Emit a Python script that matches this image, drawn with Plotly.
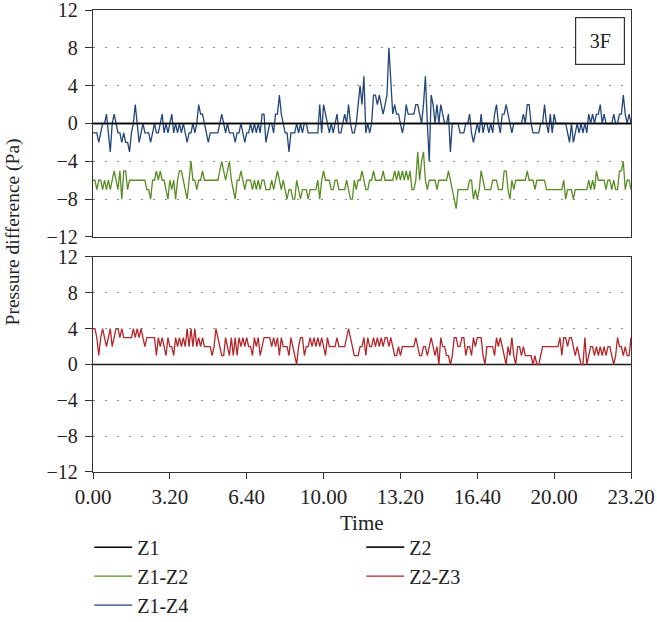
import plotly.graph_objects as go

# Time axis: samples every 5 minutes from 0:00 to 23:20
MINUTES = list(range(0, 1401, 5))
TICK_VALS = [0, 200, 400, 600, 800, 1000, 1200, 1400]
TICK_TEXT = ["0.00", "3.20", "6.40", "10.00", "13.20", "16.40", "20.00", "23.20"]

Z1_Z4 = [
    -1, -1, -1, -2, -1, 0, 0, 1, -1, -3,
    0, 1, 0, -1, -1, -2, -1, -2, -2, -3,
    -1, 0, 2, 0, -2, -1, 0, -1, -1, -1,
    -2, -1, 0, -1, -1, 0, 1, -1, 0, -1,
    0, 1, -1, 0, -1, 0, -1, 0, -1, -2,
    -1, -1, 0, -1, 0, 2, 1, 1, 0, -1,
    -2, -1, -1, -1, -1, -1, 0, 1, 0, -1,
    0, -1, -1, -1, -2, -1, -1, 0, -1, -2,
    -1, -1, 0, -1, 0, -1, 0, -1, 1, 1,
    -2, -1, 0, 0, -1, 1, 1, 3, 1, 0,
    -1, -1, -3, -1, -1, -1, 0, -1, 0, -1,
    0, 0, -1, -1, -1, -1, -1, -1, 2, -1,
    2, 1, 0, -1, 0, -1, 0, 1, -1, -1,
    0, 1, 0, 2, 0, -1, -1, 0, 2, 4,
    2, 5, -1, 0, -1, 0, 3, 3, 2, 3,
    2, 1, 2, 3, 8, 4, 1, 2, 1, 1,
    0, -1, 0, 2, 1, 1, 1, 1, 2, 2,
    1, 0, 2, 5, 0, -4, 3, 2, 0, 2,
    0, 2, 1, 0, 0, 1, -3, 0, 0, 0,
    0, -1, -1, -1, 0, 0, 1, -1, -2, -1,
    0, -1, 1, -1, 0, 0, -1, 0, -1, 1,
    2, 0, -1, 1, 1, 2, 1, 0, -1, 0,
    0, 0, 0, 0, 1, 0, 2, 2, 0, -1,
    -1, -1, -1, 0, 0, 2, 0, -1, 1, -1,
    1, 0, 0, 0, 0, 0, 0, -1, -2, 0,
    -2, -1, 0, -1, 0, -1, 0, -1, 1, 0,
    1, 0, 1, 1, 2, 0, 1, 0, 0, 0,
    0, 1, 0, 0, 1, 1, 3, 1, 0, 1,
    0,
]

Z1_Z2 = [
    -6, -6, -7, -6, -6, -7, -6, -7, -6, -7,
    -6, -5, -6, -7, -5, -8, -5, -5, -7, -6,
    -6, -6, -6, -6, -6, -6, -6, -6, -7, -7,
    -8, -6, -6, -5, -6, -5, -6, -6, -7, -8,
    -6, -7, -6, -8, -6, -5, -5, -6, -7, -8,
    -6, -4, -6, -6, -7, -6, -6, -5, -6, -6,
    -6, -6, -6, -6, -6, -6, -5, -4, -5, -6,
    -5, -4, -6, -7, -8, -6, -6, -5, -6, -7,
    -6, -6, -6, -7, -6, -7, -6, -7, -6, -6,
    -7, -7, -7, -6, -7, -6, -5, -6, -7, -6,
    -7, -8, -7, -7, -8, -8, -6, -7, -8, -7,
    -7, -7, -8, -7, -7, -7, -7, -6, -8, -6,
    -5, -6, -6, -6, -7, -7, -6, -6, -7, -7,
    -7, -7, -6, -7, -8, -8, -6, -7, -6, -6,
    -5, -6, -7, -7, -6, -6, -5, -6, -6, -6,
    -6, -5, -6, -6, -6, -6, -6, -5, -6, -5,
    -6, -5, -6, -5, -6, -5, -7, -7, -6, -3,
    -6, -4, -3, -6, -7, -6, -6, -6, -6, -7,
    -6, -6, -6, -6, -6, -5, -6, -7, -8, -9,
    -7, -7, -7, -7, -7, -7, -6, -6, -8, -7,
    -8, -7, -5, -6, -7, -7, -7, -7, -6, -6,
    -6, -7, -7, -7, -5, -5, -7, -8, -6, -7,
    -6, -6, -6, -6, -6, -6, -5, -6, -6, -6,
    -7, -6, -6, -6, -6, -6, -7, -7, -7, -7,
    -7, -7, -7, -7, -7, -6, -8, -7, -7, -7,
    -8, -7, -7, -7, -7, -7, -7, -7, -6, -7,
    -6, -7, -5, -6, -6, -6, -6, -7, -6, -6,
    -7, -6, -7, -7, -5, -5, -4, -7, -6, -6,
    -7,
]

Z2_Z3 = [
    4, 4, 3, 1, 3, 4, 3, 2, 3, 4,
    2, 3, 4, 4, 3, 4, 3, 3, 3, 3,
    3, 4, 3, 4, 3, 4, 3, 2, 3, 3,
    3, 3, 3, 1, 3, 2, 3, 2, 1, 3,
    2, 2, 1, 3, 2, 3, 2, 3, 2, 4,
    2, 4, 2, 4, 2, 3, 2, 3, 2, 2,
    2, 2, 1, 2, 4, 3, 2, 1, 1, 3,
    2, 1, 3, 1, 3, 1, 3, 2, 3, 2,
    3, 2, 2, 1, 3, 2, 3, 1, 2, 3,
    3, 3, 3, 2, 3, 2, 3, 1, 3, 2,
    2, 2, 1, 3, 2, 1, 0, 2, 3, 3,
    1, 2, 2, 3, 2, 3, 2, 3, 2, 3,
    2, 1, 3, 2, 2, 2, 2, 3, 2, 2,
    2, 2, 3, 4, 3, 2, 1, 1, 1, 2,
    2, 3, 1, 3, 2, 2, 3, 2, 3, 2,
    3, 2, 3, 3, 2, 3, 2, 1, 1, 2,
    1, 2, 2, 2, 2, 2, 2, 2, 3, 2,
    1, 1, 2, 2, 1, 2, 3, 2, 1, 2,
    0, 3, 2, 2, 1, 1, 0, 1, 3, 3,
    2, 2, 3, 3, 1, 2, 2, 1, 3, 2,
    3, 3, 3, 1, 0, 2, 2, 2, 2, 1,
    3, 2, 3, 2, 1, 0, 2, 1, 3, 1,
    0, 2, 2, 1, 2, 1, 1, 1, 1, 0,
    1, 0, 0, 1, 2, 2, 2, 2, 2, 2,
    2, 2, 2, 3, 1, 3, 3, 2, 3, 3,
    2, 1, 2, 1, 0, 0, 3, 0, 1, 2,
    2, 1, 2, 1, 2, 1, 2, 1, 2, 2,
    1, 0, 1, 3, 2, 2, 1, 2, 1, 1,
    3,
]

Z1 = [0] * len(MINUTES)
Z2 = [0] * len(MINUTES)

Y_TICKS = [-12, -8, -4, 0, 4, 8, 12]

FONT = "Liberation Serif"
BLUE = "#22457a"
GREEN = "#5a8c25"
RED = "#b3262b"

fig = go.Figure()
fig.add_trace(go.Scatter(x=MINUTES, y=Z1, name="Z1", mode="lines",
                         line=dict(color="#000000", width=1.5), xaxis="x", yaxis="y"))
fig.add_trace(go.Scatter(x=MINUTES, y=Z2, name="Z2", mode="lines",
                         line=dict(color="#1a1a1a", width=1.6), xaxis="x2", yaxis="y2"))
fig.add_trace(go.Scatter(x=MINUTES, y=Z1_Z2, name="Z1-Z2", mode="lines",
                         line=dict(color=GREEN, width=1.3), xaxis="x", yaxis="y"))
fig.add_trace(go.Scatter(x=MINUTES, y=Z2_Z3, name="Z2-Z3", mode="lines",
                         line=dict(color=RED, width=1.3), xaxis="x2", yaxis="y2"))
fig.add_trace(go.Scatter(x=MINUTES, y=Z1_Z4, name="Z1-Z4", mode="lines",
                         line=dict(color=BLUE, width=1.3), xaxis="x", yaxis="y"))
# redraw Z1 zero line on top of the blue trace like the reference
fig.add_trace(go.Scatter(x=MINUTES, y=Z1, name="Z1", mode="lines", showlegend=False,
                         line=dict(color="#000000", width=1.5), xaxis="x", yaxis="y"))

axis_line = dict(showline=True, linecolor="#333333", linewidth=1.3, mirror=True)
yaxis_common = dict(
    range=[-12, 12], tickvals=Y_TICKS, ticks="outside", ticklen=7, tickwidth=1.2,
    tickcolor="#333333", showgrid=True, gridcolor="#8a8a8a", gridwidth=1,
    griddash="2px,10px", zeroline=False, ticklabeloverflow="allow",
    ticklabelstandoff=3,
    tickfont=dict(family=FONT, size=20, color="#222222"), **axis_line,
)
xaxis_common = dict(range=[0, 1400], showgrid=False, zeroline=False, **axis_line)

fig.update_layout(
    width=657, height=622,
    margin=dict(l=93, r=26, t=10, b=150, autoexpand=False),
    paper_bgcolor="white", plot_bgcolor="white",
    showlegend=True,
    xaxis=dict(domain=[0, 1], anchor="y", showticklabels=False, ticks="", **xaxis_common),
    yaxis=dict(domain=[0.5087, 1], anchor="x", **yaxis_common),
    xaxis2=dict(domain=[0, 1], anchor="y2", tickvals=TICK_VALS, ticktext=TICK_TEXT,
                ticks="outside", ticklen=6, tickwidth=1.2, tickcolor="#333333",
                ticklabeloverflow="allow",
                tickfont=dict(family=FONT, size=21, color="#222222"), **xaxis_common),
    yaxis2=dict(domain=[0, 0.4654], anchor="x2", **yaxis_common),
    legend=dict(orientation="h", x=-0.007, xanchor="left", y=-0.1205, yanchor="top",
                entrywidth=219, entrywidthmode="pixels", itemwidth=38,
                traceorder="normal",
                font=dict(family=FONT, size=20, color="#222222"),
                bgcolor="rgba(0,0,0,0)"),
    annotations=[
        dict(text="3F", xref="paper", yref="paper", x=0.9424, y=0.9329,
             xanchor="center", yanchor="middle", showarrow=False,
             font=dict(family=FONT, size=20, color="#222222"),
             bordercolor="#333333", borderwidth=1.2, borderpad=0,
             width=48, height=46, bgcolor="white"),
        dict(text="Pressure difference (Pa)", xref="paper", yref="paper",
             x=-0.147, y=0.5206, xanchor="center", yanchor="middle", textangle=-90,
             showarrow=False, font=dict(family=FONT, size=19.5, color="#222222")),
        dict(text="Time", xref="paper", yref="paper", x=0.5, y=-0.1104,
             xanchor="center", yanchor="middle", showarrow=False,
             font=dict(family=FONT, size=21, color="#222222")),
    ],
)

fig.write_html("out.html", config={"displayModeBar": False},
               post_script="document.body.style.margin='0';")
